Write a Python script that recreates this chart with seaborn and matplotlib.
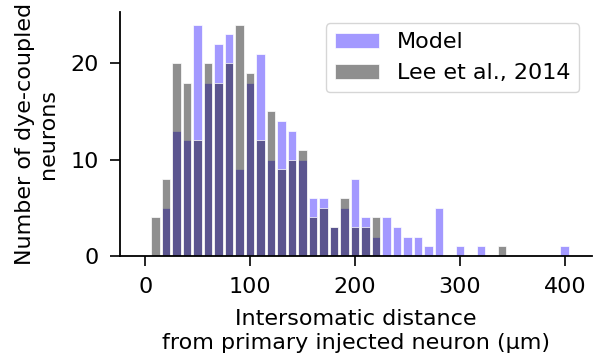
import numpy as np
import pandas as pd
import matplotlib
matplotlib.use("Agg")
import matplotlib.pyplot as plt
import seaborn as sns

# Bin centres (µm) and counts
bin_centers = [10, 20, 30, 40, 50, 60, 70, 80, 90, 100,
               110, 120, 130, 140, 150, 160, 170, 180, 190, 200,
               210, 220, 230, 240, 250, 260, 270, 280, 290, 300,
               310, 320, 330, 340, 350, 360, 370, 380, 390, 400]
model_counts = [0, 5, 13, 12, 24, 18, 22, 23, 9, 18,
                21, 10, 14, 13, 10, 6, 6, 3, 5, 8,
                4, 2, 4, 3, 2, 2, 1, 5, 0, 1,
                0, 1, 0, 0, 0, 0, 0, 0, 0, 1]
lee_counts = [4, 8, 20, 18, 12, 20, 18, 20, 24, 19,
              12, 15, 9, 10, 11, 4, 5, 3, 6, 3,
              3, 4, 0, 0, 0, 0, 0, 0, 0, 0,
              0, 0, 0, 1, 0, 0, 0, 0, 0, 0]
series_labels = ["Model", "Lee et al., 2014"]
x_ticks = [0, 100, 200, 300, 400]
y_ticks = [0, 10, 20]

df = pd.DataFrame({"dist": bin_centers, "model": model_counts, "lee": lee_counts})

sns.set_style("ticks")
plt.rcParams["font.family"] = ["DejaVu Sans"]
plt.rcParams["font.size"] = 16
for k in ["text.color", "axes.labelcolor", "xtick.color", "ytick.color", "axes.edgecolor"]:
    plt.rcParams[k] = "black"

fig = plt.figure(figsize=(5.95, 3.58), dpi=100)
ax = fig.add_axes([0.2017, 0.285, 0.7933, 0.681])

sns.histplot(data=df, x="dist", weights="model", binwidth=10, binrange=(5, 405),
             shrink=0.82, color="#a399ff", alpha=1.0, edgecolor="white",
             linewidth=0.5, ax=ax, label=series_labels[0])
sns.histplot(data=df, x="dist", weights="lee", binwidth=10, binrange=(5, 405),
             shrink=0.82, color="black", alpha=0.44, edgecolor="white",
             linewidth=0.5, ax=ax, label=series_labels[1])

ax.set_xlim(-24, 426)
ax.set_ylim(0, 25.3)
ax.set_xticks(x_ticks)
ax.set_yticks(y_ticks)
ax.tick_params(axis="both", labelsize=16, length=7, width=1.2, pad=8)
for s in ["left", "bottom"]:
    ax.spines[s].set_linewidth(1.3)
sns.despine(ax=ax)

ax.set_xlabel("Intersomatic distance\nfrom primary injected neuron (μm)",
              fontsize=16, labelpad=9)
ax.set_ylabel("Number of dye-coupled\nneurons", fontsize=16, labelpad=9)
ax.legend(loc="upper right", fontsize=16, frameon=True, bbox_to_anchor=(0.997, 1.0))

fig.savefig("out.png", dpi=100)
